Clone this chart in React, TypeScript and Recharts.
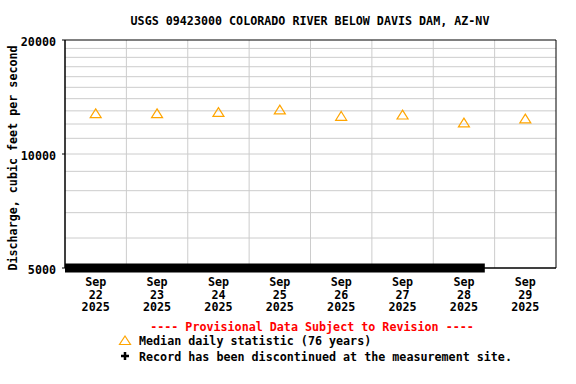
import {
  ComposedChart,
  XAxis,
  YAxis,
  CartesianGrid,
  Scatter,
  Line,
  ReferenceArea,
} from "recharts";

const FONT = '"DejaVu Sans Mono", monospace';
const TITLE = "USGS 09423000 COLORADO RIVER BELOW DAVIS DAM, AZ-NV";
const Y_LABEL = "Discharge, cubic feet per second";
const MONTH = "Sep";
const YEAR = "2025";
const DAYS = ["22", "23", "24", "25", "26", "27", "28", "29"];
// median daily flow, cfs
const MEDIAN_CFS = [12800, 12800, 12900, 13100, 12600, 12700, 12100, 12400];
const Y_TICKS = [5000, 10000, 20000];
const Y_GRID = [6000, 7000, 8000, 9000, 10000, 11000, 12000, 13000, 14000, 15000, 16000, 17000, 18000, 19000];
const DAY_LINES = [1, 2, 3, 4, 5, 6, 7];
// days since Sep 22 00:00 covered by the "discontinued" markers
const DISCONTINUED_DAYS = [0, 6.84];
const FLOOR_CFS = 5000;

const medianData = DAYS.map((_, i) => ({ t: i + 0.5, cfs: MEDIAN_CFS[i] }));
const discontinuedData = DISCONTINUED_DAYS.map((t) => ({ t, cfs: FLOOR_CFS }));
const xTicks = DAYS.map((_, i) => i + 0.5);

const ORANGE = "#FFA500";

function Triangle(p: any) {
  const { cx, cy } = p;
  return (
    <path
      d={`M${cx},${cy - 4.5}L${cx + 5.5},${cy + 4.3}L${cx - 5.5},${cy + 4.3}Z`}
      fill="none"
      stroke={ORANGE}
      strokeWidth={1.2}
    />
  );
}

function DayTick(p: any) {
  const { x, y, payload } = p;
  const day = DAYS[Math.floor(payload.value)];
  return (
    <text x={x} y={y} textAnchor="middle" fontFamily={FONT} fontWeight="bold" fontSize={11.7} fill="#000">
      <tspan x={x} y={y + 18}>{MONTH}</tspan>
      <tspan x={x} y={y + 30.5}>{day}</tspan>
      <tspan x={x} y={y + 43}>{YEAR}</tspan>
    </text>
  );
}

function FlowTick(p: any) {
  const { x, y, payload } = p;
  return (
    <text x={x - 6} y={y + 5.5} textAnchor="end" fontFamily={FONT} fontWeight="bold" fontSize={11.7} fill="#000">
      {payload.value}
    </text>
  );
}

export default function App() {
  return (
    <div style={{ position: "absolute", left: 0, top: 0, width: 576, height: 384, background: "#fff" }}>
      <ComposedChart width={576} height={384} margin={{ top: 40, right: 20, bottom: 66, left: 0 }}>
        <CartesianGrid stroke="#cccccc" horizontalValues={Y_GRID} verticalValues={DAY_LINES} />
        <XAxis
          type="number"
          dataKey="t"
          domain={[0, 8]}
          ticks={xTicks}
          interval={0}
          tick={<DayTick />}
          tickLine={false}
          tickSize={0}
          tickMargin={0}
          axisLine={{ stroke: "#000" }}
          height={50}
        />
        <YAxis
          type="number"
          dataKey="cfs"
          scale="log"
          domain={[5000, 20000]}
          ticks={Y_TICKS}
          interval={0}
          tick={<FlowTick />}
          tickLine={{ stroke: "#000" }}
          tickSize={3}
          tickMargin={0}
          axisLine={{ stroke: "#000" }}
          width={65}
        />
        <ReferenceArea x1={0} x2={8} y1={5000} y2={20000} fill="none" stroke="#000" strokeWidth={1} />
        <Line
          data={discontinuedData}
          dataKey="cfs"
          stroke="#000"
          strokeWidth={9}
          strokeLinecap="butt"
          dot={false}
          isAnimationActive={false}
        />
        <Scatter data={medianData} dataKey="cfs" shape={<Triangle />} isAnimationActive={false} />

        <text x={310} y={25} textAnchor="middle" fontFamily={FONT} fontWeight="bold" fontSize={11.7} fill="#000">
          {TITLE}
        </text>
        <text
          transform="rotate(-90)"
          x={-158}
          y={16.5}
          textAnchor="middle"
          fontFamily={FONT}
          fontWeight="bold"
          fontSize={11.7}
          fill="#000"
        >
          {Y_LABEL}
        </text>
        <text x={312} y={331} textAnchor="middle" fontFamily={FONT} fontWeight="bold" fontSize={11.7} fill="#ff0000">
          ---- Provisional Data Subject to Revision ----
        </text>
        <path d="M125,336L130.5,344.5L119.5,344.5Z" fill="none" stroke={ORANGE} strokeWidth={1.2} />
        <text x={139} y={345} fontFamily={FONT} fontWeight="bold" fontSize={11.7} fill="#000">
          Median daily statistic (76 years)
        </text>
        <path d="M121,356H129M125,352V360" stroke="#000" strokeWidth={2.5} />
        <text x={139} y={361} fontFamily={FONT} fontWeight="bold" fontSize={11.7} fill="#000">
          Record has been discontinued at the measurement site.
        </text>
      </ComposedChart>
    </div>
  );
}
